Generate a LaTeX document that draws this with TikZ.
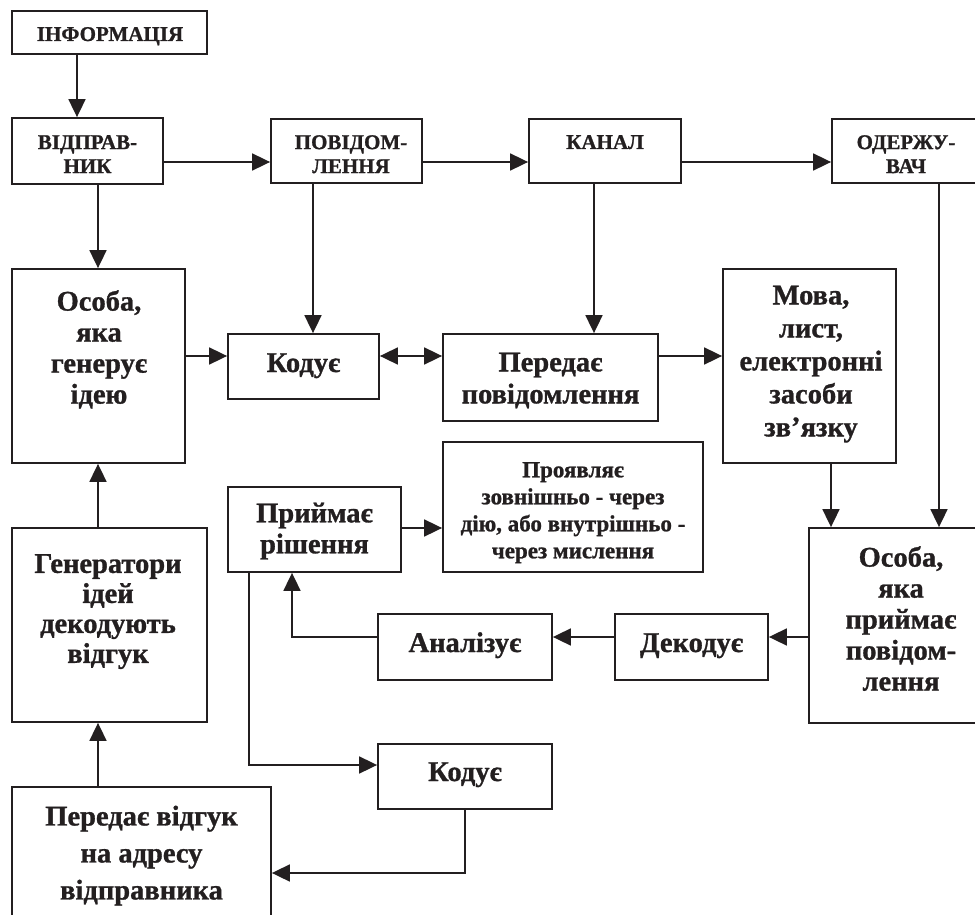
\documentclass[tikz,border=0pt]{standalone}
\usepackage{fontspec}
\setmainfont{Liberation Serif}[BoldFeatures={FakeBold=1}]
\usetikzlibrary{arrows.meta}
\definecolor{ink}{HTML}{231F20}
\tikzset{
  x=1pt, y=-1pt,
  box/.style={draw=ink, line width=1.8pt, inner sep=0pt, fill=white},
  arr/.style={draw=ink, line width=1.8pt, -{Triangle[length=18pt,width=17pt]}},
  darr/.style={draw=ink, line width=1.8pt, {Triangle[length=18pt,width=17pt]}-{Triangle[length=18pt,width=17pt]}},
  big/.style={text=ink, align=center, inner sep=0pt, font=\fontsize{28.5}{32}\selectfont\bfseries},
  captxt/.style={text=ink, align=center, inner sep=0pt, font=\fontsize{21}{24}\selectfont\bfseries},
  midtxt/.style={text=ink, align=center, inner sep=0pt, font=\fontsize{23}{27}\selectfont\bfseries},
}
\begin{document}
\begin{tikzpicture}
\useasboundingbox (0,0) rectangle (975,915);
% boxes
\node[box, minimum width=195pt, minimum height=43pt] (info) at (109.5,32.5) {};
\node[box, minimum width=151pt, minimum height=66pt] (sender) at (87.5,151) {};
\node[box, minimum width=151pt, minimum height=64pt] (msg) at (346.5,151) {};
\node[box, minimum width=152pt, minimum height=64pt] (chan) at (605,151) {};
\node[box, minimum width=158pt, minimum height=64pt] (recv) at (911,151) {};
\node[box, minimum width=173pt, minimum height=194pt] (person1) at (98.5,366) {};
\node[box, minimum width=151pt, minimum height=65pt] (code1) at (303.5,366.5) {};
\node[box, minimum width=215pt, minimum height=87pt] (trans) at (550.5,377.5) {};
\node[box, minimum width=173pt, minimum height=194pt] (media) at (809.5,366) {};
\node[box, minimum width=173pt, minimum height=85pt] (decide) at (314.5,529.5) {};
\node[box, minimum width=260pt, minimum height=130pt] (manifest) at (573,507) {};
\node[box, minimum width=184pt, minimum height=195pt] (person2) at (901,625.5) {};
\node[box, minimum width=153pt, minimum height=66pt] (decode) at (691.5,647) {};
\node[box, minimum width=174pt, minimum height=66pt] (analyze) at (465,647) {};
\node[box, minimum width=195pt, minimum height=194pt] (gen) at (109.5,625) {};
\node[box, minimum width=174pt, minimum height=65pt] (code2) at (465,776.5) {};
\node[box, minimum width=259pt, minimum height=143pt] (feedback) at (141.5,858.5) {};
% texts
\node[captxt, anchor=base] (info-t) at (110,41) {ІНФОРМАЦІЯ};
\node[captxt, anchor=north] (sender-t) at (87.5,135) {ВІДПРАВ-\\НИК};
\node[captxt, anchor=north] (msg-t) at (351,135) {ПОВІДОМ-\\ЛЕННЯ};
\node[captxt, anchor=base] (chan-t) at (605,149) {КАНАЛ};
\node[captxt, anchor=north] (recv-t) at (906,135) {ОДЕРЖУ-\\ВАЧ};
\node[big, anchor=north, font=\fontsize{28.5}{31}\selectfont\bfseries] (person1-t) at (99,290) {Особа,\\яка\\генерує\\ідею};
\node[big, anchor=base] (code1-t) at (303.5,372) {Кодує};
\node[big, anchor=north] (trans-t) at (550.5,352.5) {Передає\\повідомлення};
\node[big, anchor=north, font=\fontsize{28.5}{33}\selectfont\bfseries] (media-t) at (811,285.5) {Мова,\\лист,\\електронні\\засоби\\зв’язку};
\node[big, anchor=north, font=\fontsize{28.5}{31}\selectfont\bfseries] (decide-t) at (314.5,502.5) {Приймає\\рішення};
\node[midtxt, anchor=north] (manifest-t) at (573,462) {Проявляє\\зовнішньо - через\\дію, або внутрішньо -\\через мислення};
\node[big, anchor=north, font=\fontsize{28.5}{31}\selectfont\bfseries] (person2-t) at (901,546) {Особа,\\яка\\приймає\\повідом-\\лення};
\node[big, anchor=base] (decode-t) at (691.5,652) {Декодує};
\node[big, anchor=base] (analyze-t) at (465,652) {Аналізує};
\node[big, anchor=north, font=\fontsize{28.5}{30}\selectfont\bfseries] (gen-t) at (108,554) {Генератори\\ідей\\декодують\\відгук};
\node[big, anchor=base] (code2-t) at (465,781) {Кодує};
\node[big, anchor=north, font=\fontsize{28.5}{37}\selectfont\bfseries] (feedback-t) at (141.5,805.5) {Передає відгук\\на адресу\\відправника};
% helper coordinates
\coordinate (xInfo) at (77,0);
\coordinate (xSend) at (98,0);
\coordinate (xMsg) at (313,0);
\coordinate (xChan) at (594,0);
\coordinate (xMedia) at (831,0);
\coordinate (xRecv) at (939,0);
\coordinate (xUp) at (292,0);
\coordinate (xDown) at (249,0);
\coordinate (xCode2) at (465,0);
\coordinate (yTop) at (0,162);
\coordinate (yMid) at (0,356);
\coordinate (yMan) at (0,528);
\coordinate (yDec) at (0,637);
\coordinate (yCode2) at (0,765);
\coordinate (yFb) at (0,873);
\coordinate (c1) at (xUp |- yDec);
\coordinate (c2) at (xDown |- yCode2);
\coordinate (c3) at (xCode2 |- yFb);
% connectors
\draw[arr] (info.south -| xInfo) -- (sender.north -| xInfo);
\draw[arr] (sender.east |- yTop) -- (msg.west |- yTop);
\draw[arr] (msg.east |- yTop) -- (chan.west |- yTop);
\draw[arr] (chan.east |- yTop) -- (recv.west |- yTop);
\draw[arr] (sender.south -| xSend) -- (person1.north -| xSend);
\draw[arr] (msg.south -| xMsg) -- (code1.north -| xMsg);
\draw[arr] (chan.south -| xChan) -- (trans.north -| xChan);
\draw[arr] (recv.south -| xRecv) -- (person2.north -| xRecv);
\draw[arr] (media.south -| xMedia) -- (person2.north -| xMedia);
\draw[arr] (person1.east |- yMid) -- (code1.west |- yMid);
\draw[darr] (code1.east |- yMid) -- (trans.west |- yMid);
\draw[arr] (trans.east |- yMid) -- (media.west |- yMid);
\draw[arr] (decide.east |- yMan) -- (manifest.west |- yMan);
\draw[arr] (person2.west |- yDec) -- (decode.east |- yDec);
\draw[arr] (decode.west |- yDec) -- (analyze.east |- yDec);
\draw[arr] (analyze.west |- yDec) -- (c1) -- (decide.south -| xUp);
\draw[arr] (decide.south -| xDown) -- (c2) -- (code2.west |- yCode2);
\draw[arr] (code2.south -| xCode2) -- (c3) -- (feedback.east |- yFb);
\draw[arr] (feedback.north -| xSend) -- (gen.south -| xSend);
\draw[arr] (gen.north -| xSend) -- (person1.south -| xSend);
\end{tikzpicture}
\end{document}
